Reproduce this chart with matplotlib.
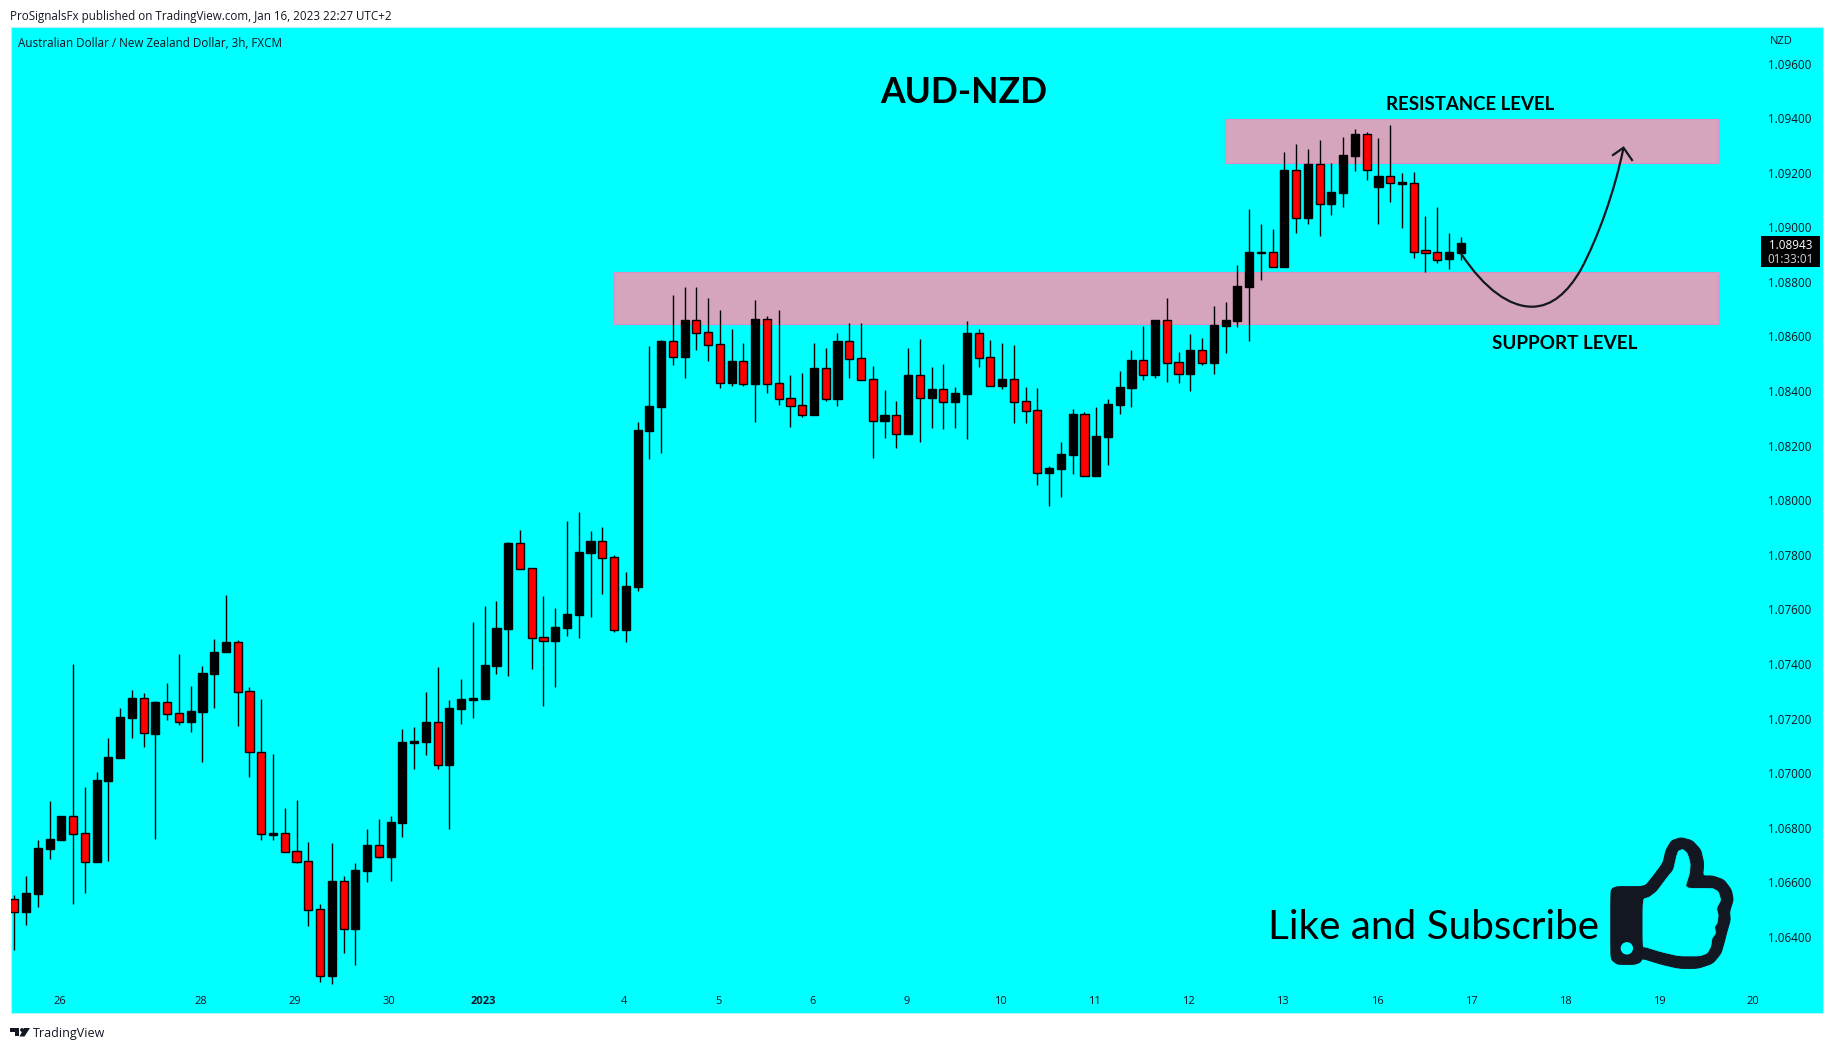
import numpy as np
import matplotlib
matplotlib.use("Agg")
import matplotlib.pyplot as plt
from matplotlib.path import Path
from matplotlib.patches import PathPatch, Polygon, Circle, Rectangle

# prices in units of 0.00001
highs = [106552,106623,106755,106898,106843,107400,106949,107004,107129,107239,107305,107294,107264,107330,107437,107319,107393,107492,107653,107488,107316,107272,107070,106872,106902,106748,106521,106744,106623,106671,106795,106832,106843,107162,107169,107297,107389,107268,107345,107554,107612,107631,107847,107891,107751,107649,107605,107924,107957,107887,107902,107799,107737,108287,108565,108587,108752,108781,108781,108741,108697,108628,108576,108734,108675,108697,108459,108466,108576,108558,108613,108650,108650,108492,108404,108364,108558,108591,108488,108499,108415,108657,108628,108587,108576,108569,108415,108411,108125,108213,108334,108323,108342,108371,108474,108551,108638,108660,108741,108543,108609,108595,108712,108726,108862,109067,109012,108994,109276,109305,109287,109320,109236,109331,109360,109349,109327,109375,109199,109203,109042,109075,108979,108965]
opens = [106538,106492,106558,106723,106756,106842,106780,106676,106972,107057,107203,107274,107145,107260,107219,107189,107225,107365,107442,107479,107300,107076,106775,106780,106714,106677,106501,106258,106604,106427,106643,106736,106694,106819,107112,107115,107186,107031,107235,107269,107272,107393,107528,107842,107751,107498,107484,107532,107580,107807,107849,107791,107525,107682,108254,108342,108582,108525,108659,108615,108571,108430,108509,108426,108663,108428,108373,108348,108312,108483,108371,108582,108520,108443,108290,108311,108243,108458,108375,108406,108360,108389,108612,108524,108419,108443,108362,108329,108100,108114,108166,108315,108089,108232,108349,108411,108513,108459,108659,108505,108463,108549,108503,108638,108657,108781,108906,108908,108856,109209,109034,109231,109086,109126,109261,109342,109148,109187,109160,109161,108916,108908,108884,108906]
closes = [106492,106560,106725,106759,106843,106778,106676,106975,107058,107206,107275,107146,107260,107218,107189,107227,107366,107444,107479,107299,107076,106776,106780,106712,106676,106500,106258,106604,106427,106644,106736,106694,106820,107113,107117,107186,107031,107238,107272,107275,107396,107532,107842,107749,107496,107485,107536,107583,107810,107851,107790,107526,107686,108257,108345,108584,108526,108660,108614,108570,108431,108510,108427,108664,108427,108372,108347,108314,108485,108372,108584,108519,108442,108292,108312,108244,108459,108376,108408,108361,108393,108613,108522,108420,108444,108361,108328,108101,108118,108169,108316,108090,108235,108353,108415,108514,108460,108660,108504,108464,108551,108504,108642,108660,108785,108910,108910,108856,109210,109035,109232,109087,109130,109265,109342,109211,109188,109164,109166,108911,108907,108882,108910,108943]
lows = [106353,106445,106511,106687,106756,106522,106562,106676,106679,107057,107130,107097,106760,107196,107178,107152,107042,107240,107442,107174,106984,106756,106756,106712,106672,106441,106236,106229,106342,106298,106602,106690,106606,106767,107016,107068,107016,106797,107181,107203,107272,107363,107356,107749,107382,107246,107316,107503,107495,107572,107656,107517,107481,107667,108151,108173,108496,108448,108551,108510,108411,108419,108419,108287,108393,108349,108268,108305,108312,108364,108345,108448,108442,108155,108228,108191,108243,108213,108265,108261,108265,108224,108488,108420,108408,108283,108283,108056,107979,108012,108096,108090,108089,108129,108316,108342,108441,108448,108433,108430,108400,108496,108464,108540,108635,108584,108807,108856,108856,108979,109012,108968,109045,109075,109206,109173,109012,109093,108998,108888,108836,108869,108847,108880]

y_ticks = [1.096,1.094,1.092,1.090,1.088,1.086,1.084,1.082,1.080,1.078,1.076,1.074,1.072,1.070,1.068,1.066,1.064]
x_tick_pos = [4,16,24,32,40,52,60,68,76,84,92,100,108,116,124,132,140,148]
x_tick_labels = ["26","28","29","30","2023","4","5","6","9","10","11","12","13","16","17","18","19","20"]
resistance_zone = (1.09234, 1.09396)
support_zone = (1.08647, 1.08836)

W, H = 1834, 1050
DARK = "#131722"
SANS = ["Open Sans", "DejaVu Sans"]
LATO = ["Lato", "DejaVu Sans"]
fig = plt.figure(figsize=(W/100, H/100), dpi=100, facecolor="white")

def rect(l, t, r, b):
    return [l/W, 1-b/H, (r-l)/W, (b-t)/H]

L, T, R, B = 10.5, 27, 1823, 1013
ax = fig.add_axes(rect(L, T, R, B), facecolor="#00FFFF")
step, x0 = 11.76, 14.3
ax.set_xlim((L-x0)/step, (R-x0)/step)
ax.set_ylim(1.06121, 1.09734)
for s in ax.spines.values():
    s.set_color("#b5f7f7"); s.set_linewidth(0.8)

o, h, l_, c = [np.array(v)/1e5 for v in (opens, highs, lows, closes)]
idx = np.arange(len(o))
up = c > o
ax.vlines(idx, l_, h, color="black", lw=1.0, zorder=3)
body_lo, body_hi = np.minimum(o, c), np.maximum(o, c)
ax.bar(idx, body_hi-body_lo, bottom=body_lo, width=0.69,
       color=np.where(up, "black", "#FF0000"), edgecolor="black", linewidth=1.0, zorder=4)

# zones
lim = lambda px: (px-x0)/step
for (z0, z1), left in ((resistance_zone, 1225), (support_zone, 614)):
    ax.add_patch(Rectangle((lim(left), z0), lim(1718)-lim(left), z1-z0,
                           facecolor="#D5A5BE", edgecolor="#DC8FC4", lw=0.8, zorder=2))

ax.yaxis.tick_right()
ax.set_yticks(y_ticks)
ax.set_yticklabels([f"{v:.5f}" for v in y_ticks], fontsize=8.4, color=DARK, family=SANS)
ax.tick_params(axis="y", length=0, pad=-39.5)
ax.set_xticks(np.array(x_tick_pos) - 0.13)
ax.set_xticklabels(x_tick_labels, fontsize=8.0, color=DARK, family=SANS)
ax.tick_params(axis="x", length=0, pad=-12.5)
for t in ax.get_xticklabels():
    if t.get_text() == "2023":
        t.set_fontweight("bold")

# overlay in pixel space for annotations
ov = fig.add_axes([0, 0, 1, 1], facecolor="none")
ov.set_xlim(0, W); ov.set_ylim(H, 0); ov.axis("off")

ov.text(10, 16.5, "ProSignalsFx published on TradingView.com, Jan 16, 2023 22:27 UTC+2",
        fontsize=8.33, color=DARK, va="center", family=SANS)
ov.text(18.5, 43.5, "Australian Dollar / New Zealand Dollar, 3h, FXCM",
        fontsize=8.35, color=DARK, va="center", family=SANS)
ov.text(1770, 42, "NZD", fontsize=8.0, color=DARK, va="center", family=SANS)
ov.text(964, 92.5, "AUD-NZD", fontsize=25.6, fontweight="bold", color="black",
        ha="center", va="center", family=LATO)
ov.text(1470, 105, "RESISTANCE LEVEL", fontsize=13.4, fontweight="bold", color="black",
        ha="center", va="center", family=LATO)
ov.text(1565, 343.5, "SUPPORT LEVEL", fontsize=13.6, fontweight="bold", color="black",
        ha="center", va="center", family=LATO)
ov.text(1433, 927.5, "Like and Subscribe", fontsize=29.2, color="black",
        ha="center", va="center", family=LATO)

# price flag
ov.add_patch(Rectangle((1761, 236), 59, 31, facecolor="#000000", edgecolor="none"))
ov.text(1790.5, 245.5, "1.08943", fontsize=8.4, color="white", ha="center", va="center", family=SANS)
ov.text(1790.5, 259.5, "01:33:01", fontsize=8.4, color="#d0d3da", ha="center", va="center", family=SANS)

# curved arrow
verts = [(1460.7, 253), (1485, 290), (1510, 306.7), (1532, 306.7),
         (1552, 306.7), (1568, 292), (1580.6, 270),
         (1598, 238), (1615, 190), (1623.5, 147.7)]
codes = [Path.MOVETO] + [Path.CURVE4]*9
ov.add_patch(PathPatch(Path(verts, codes), facecolor="none", edgecolor=DARK, lw=1.6, zorder=5))
ov.plot([1613, 1623.5, 1632], [155, 147.7, 160], color=DARK, lw=1.6, zorder=5,
        solid_joinstyle="miter")

# thumb icon
outer = [(967,215),(972,205),(985,200),(1058,200),(1080,170),(1100,140),(1108,125),(1115,90),(1130,62),(1155,53),
         (1185,62),(1208,90),(1216,130),(1213,168),(1240,168),(1270,180),(1290,210),(1295,240),(1285,275),
         (1287,300),(1278,335),(1270,370),(1262,400),(1240,430),(1200,445),(1150,445),(1100,432),(1052,415),
         (1045,427),(1030,433),(985,433),(970,420),(967,405)]
inner = [(1053,237),(1070,232),(1090,215),(1120,170),(1135,150),(1143,110),(1148,93),(1160,88),(1172,100),
         (1180,130),(1178,160),(1165,205),(1240,205),(1255,215),(1262,240),(1250,265),(1255,285),(1252,310),
         (1245,320),(1248,340),(1238,355),(1235,380),(1225,400),(1205,408),(1150,408),(1100,395),(1060,381),(1053,381)]
tz = lambda pts: [(1250+x/2.68, 820+y/3) for x, y in pts]
def chaikin(pts, n=2):
    p = np.array(pts, float)
    for _ in range(n):
        q = np.roll(p, -1, axis=0)
        p = np.column_stack([0.85*p + 0.15*q, 0.15*p + 0.85*q]).reshape(-1, 2)
    return p
ov.add_patch(Polygon(chaikin(tz(outer)), closed=True, facecolor=DARK, edgecolor=DARK, lw=0.8, joinstyle="round"))
ov.add_patch(Polygon(chaikin(tz(inner)), closed=True, facecolor="#00FFFF", edgecolor="#00FFFF", lw=0.5, joinstyle="round"))
ov.add_patch(Circle((1250+1010/2.68, 820+385/3), 6.2, facecolor="#00FFFF", edgecolor="none"))

# TradingView logo
ov.add_patch(Polygon([(10,1028),(18.5,1028),(18.5,1036),(14.5,1036),(14.5,1032),(10,1032)], closed=True, facecolor=DARK, edgecolor="none"))
ov.add_patch(Circle((22,1030), 1.9, facecolor=DARK, edgecolor="none"))
ov.add_patch(Polygon([(24,1028),(30,1028),(24.5,1036.5),(19.5,1036.5)], closed=True, facecolor=DARK, edgecolor="none"))
ov.text(33, 1033, "TradingView", fontsize=9.0, color=DARK, va="center", family=SANS)

fig.savefig("out.png", dpi=100, facecolor="white")
